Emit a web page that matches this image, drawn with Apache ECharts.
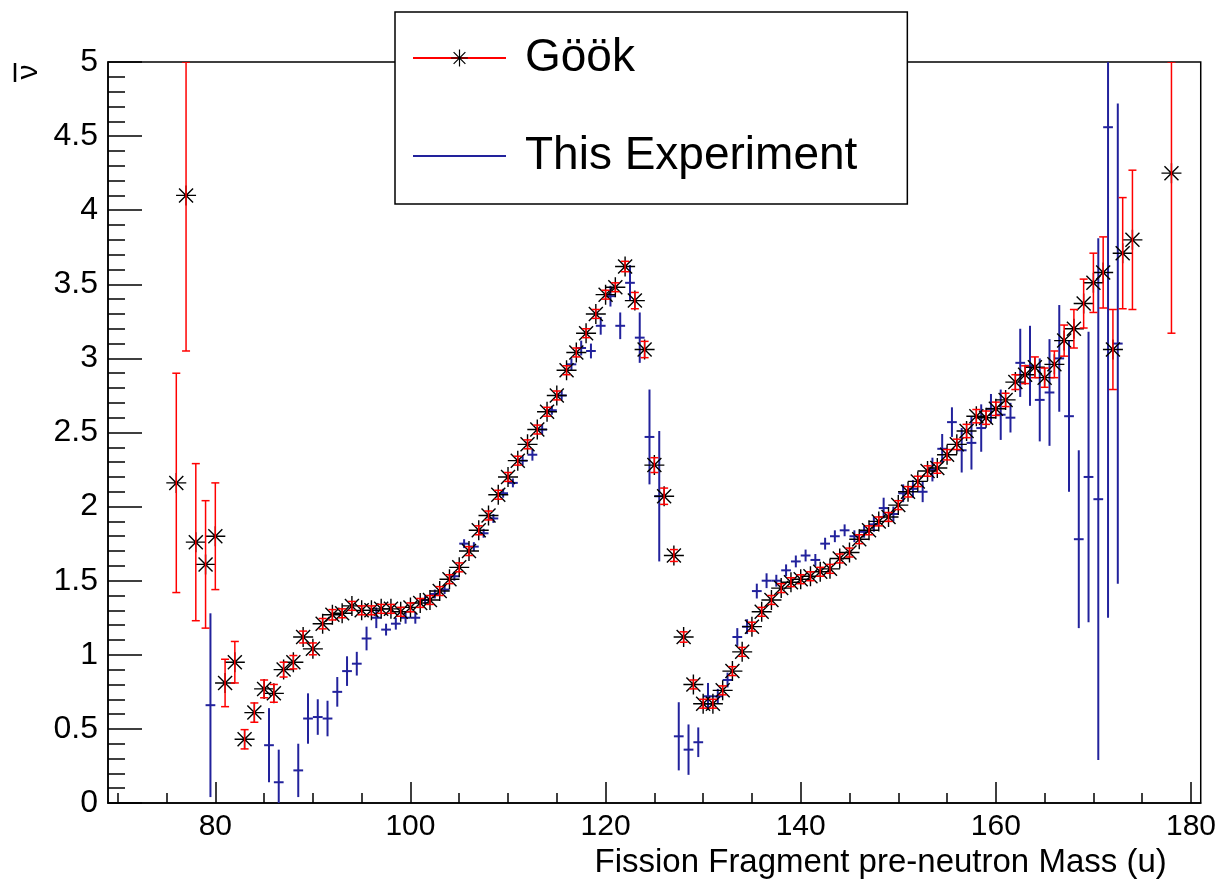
<!DOCTYPE html>
<html>
<head>
<meta charset="utf-8">
<title>nu-bar vs fragment mass</title>
<script src="https://cdn.jsdelivr.net/npm/echarts@6/dist/echarts.min.js"></script>
<style>
  html, body { margin: 0; padding: 0; background: #fff; }
  #chart { width: 1219px; height: 881px; }
</style>
</head>
<body>
<div id="chart"></div>
<script>
// Göök: mass (u), mean neutron multiplicity, error
const GOOK_MASS = [
  76, 77, 78, 79, 80, 81, 82, 83, 84, 85,
  86, 87, 88, 89, 90, 91, 92, 93, 94, 95,
  96, 97, 98, 99, 100, 101, 102, 103, 104, 105,
  106, 107, 108, 109, 110, 111, 112, 113, 114, 115,
  116, 117, 118, 119, 120, 121, 122, 123, 124, 125,
  126, 127, 128, 129, 130, 131, 132, 133, 134, 135,
  136, 137, 138, 139, 140, 141, 142, 143, 144, 145,
  146, 147, 148, 149, 150, 151, 152, 153, 154, 155,
  156, 157, 158, 159, 160, 161, 162, 163, 164, 165,
  166, 167, 168, 169, 170, 171, 172, 173, 174,
  178
];
const GOOK_NU = [
  2.16, 4.10, 1.76, 1.61, 1.80, 0.81, 0.95, 0.43, 0.61, 0.77,
  0.74, 0.90, 0.95, 1.12, 1.04, 1.21, 1.27, 1.28, 1.33, 1.30,
  1.30, 1.31, 1.31, 1.29, 1.32, 1.35, 1.37, 1.43, 1.51, 1.59,
  1.70, 1.84, 1.94, 2.08, 2.20, 2.31, 2.42, 2.52, 2.64, 2.75,
  2.92, 3.04, 3.17, 3.30, 3.43, 3.48, 3.62, 3.39, 3.06, 2.28,
  2.07, 1.67, 1.12, 0.80, 0.67, 0.67, 0.76, 0.89, 1.02, 1.19,
  1.29, 1.37, 1.45, 1.49, 1.51, 1.53, 1.56, 1.58, 1.65, 1.69,
  1.78, 1.84, 1.90, 1.93, 2.01, 2.10, 2.17, 2.24, 2.26, 2.35,
  2.42, 2.51, 2.61, 2.60, 2.66, 2.72, 2.84, 2.89, 2.94, 2.87,
  2.96, 3.12, 3.20, 3.37, 3.51, 3.58, 3.06, 3.71, 3.80,
  4.25
];
const GOOK_ERR = [
  0.74, 1.05, 0.53, 0.43, 0.36, 0.16, 0.14, 0.065, 0.065, 0.06,
  0.06, 0.05, 0.045, 0.04, 0.04, 0.035, 0.035, 0.03, 0.03, 0.03,
  0.03, 0.03, 0.03, 0.03, 0.03, 0.03, 0.03, 0.03, 0.03, 0.03,
  0.03, 0.03, 0.03, 0.03, 0.03, 0.03, 0.03, 0.03, 0.03, 0.03,
  0.03, 0.03, 0.03, 0.03, 0.03, 0.03, 0.035, 0.055, 0.055, 0.05,
  0.055, 0.04, 0.035, 0.03, 0.03, 0.03, 0.03, 0.03, 0.03, 0.03,
  0.03, 0.03, 0.03, 0.03, 0.03, 0.03, 0.03, 0.03, 0.03, 0.03,
  0.03, 0.03, 0.03, 0.03, 0.03, 0.035, 0.035, 0.035, 0.035, 0.035,
  0.035, 0.045, 0.045, 0.045, 0.045, 0.045, 0.05, 0.06, 0.07, 0.065,
  0.09, 0.105, 0.13, 0.165, 0.2, 0.24, 0.27, 0.375, 0.47,
  1.08
];

// This Experiment: bin centre (u), mean neutron multiplicity, error
const EXP_MASS = [
  79.5, 85.5, 86.5,
  88.5, 89.5, 90.5, 91.5, 92.5, 93.5, 94.5, 95.5, 96.5, 97.5,
  98.5, 99.5, 100.5, 101.5, 102.5, 103.5, 104.5, 105.5, 106.5, 107.5,
  108.5, 109.5, 110.5, 111.5, 112.5, 113.5, 114.5, 115.5, 116.5, 117.5,
  118.5, 119.5, 120.5, 121.5, 122.5, 123.5, 124.5, 125.5,
  127.5, 128.5, 129.5, 130.5, 131.5, 132.5, 133.5, 134.5, 135.5, 136.5,
  137.5, 138.5, 139.5, 140.5, 141.5, 142.5, 143.5, 144.5, 145.5, 146.5,
  147.5, 148.5, 149.5, 150.5, 151.5, 152.5, 153.5, 154.5, 155.5, 156.5,
  157.5, 158.5, 159.5, 160.5, 161.5, 162.5, 163.5, 164.5, 165.5, 166.5,
  167.5, 168.5, 169.5, 170.5, 171.5, 172.5
];
const EXP_NU = [
  0.66, 0.39, 0.14,
  0.22, 0.57, 0.58, 0.57, 0.75, 0.89, 0.94, 1.11, 1.25, 1.17,
  1.21, 1.25, 1.25, 1.37, 1.41, 1.44, 1.53, 1.75, 1.73, 1.82,
  1.92, 2.09, 2.16, 2.31, 2.35, 2.52, 2.65, 2.75, 2.96, 3.07,
  3.05, 3.22, 3.42, 3.22, 3.51, 3.14, 2.47, 2.07,
  0.45, 0.36, 0.41, 0.72, 0.72, 0.83, 1.12, 1.19, 1.43, 1.50,
  1.50, 1.57, 1.63, 1.67, 1.64, 1.75, 1.80, 1.84, 1.80, 1.83,
  1.88, 1.99, 1.95, 2.09, 2.12, 2.10, 2.25, 2.39, 2.57, 2.38,
  2.43, 2.53, 2.66, 2.62, 2.60, 2.97, 2.95, 2.72, 2.77, 3.00,
  2.61, 1.78, 2.20, 2.05, 4.56, 3.10
];
const EXP_ERR = [
  0.62, 0.25, 0.22,
  0.18, 0.17, 0.12, 0.12, 0.10, 0.10, 0.08, 0.08, 0.07, 0.04,
  0.04, 0.04, 0.04, 0.03, 0.03, 0.03, 0.03, 0.03, 0.03, 0.03,
  0.03, 0.03, 0.03, 0.03, 0.04, 0.03, 0.03, 0.03, 0.04, 0.05,
  0.05, 0.06, 0.07, 0.09, 0.12, 0.17, 0.32, 0.44,
  0.23, 0.17, 0.10, 0.09, 0.05, 0.05, 0.06, 0.05, 0.05, 0.05,
  0.04, 0.04, 0.04, 0.04, 0.04, 0.04, 0.04, 0.04, 0.04, 0.04,
  0.05, 0.07, 0.05, 0.06, 0.06, 0.07, 0.08, 0.10, 0.10, 0.15,
  0.18, 0.16, 0.10, 0.17, 0.10, 0.23, 0.27, 0.28, 0.36, 0.36,
  0.51, 0.60, 0.98, 1.76, 3.31, 1.62
];
const EXP_BIN_HALF = 0.5;

// axis ticks
const X_MIN = 69, X_MAX = 181;
const Y_MIN = 0, Y_MAX = 5;
const X_MAJOR = [80, 100, 120, 140, 160, 180];
const X_MINOR = [70, 75, 85, 90, 95, 105, 110, 115, 125, 130, 135,
                 145, 150, 155, 165, 170, 175];

const FONT = 'Liberation Sans';
const RED = '#ff0000';
const BLUE = '#22229c';

// ROOT style asterisk marker
const ASTERISK = 'path://M0,9.3L20,9.3L20,10.7L0,10.7Z' +
  'M9.3,0L10.7,0L10.7,20L9.3,20Z' +
  'M3.5,2.5L17.5,16.5L16.5,17.5L2.5,3.5Z' +
  'M17.5,3.5L3.5,17.5L2.5,16.5L16.5,2.5Z' +
  'M8.3,8.3L11.7,8.3L11.7,11.7L8.3,11.7Z';

const gookPoints = GOOK_MASS.map((m, i) => [m, GOOK_NU[i]]);
const gookErrors = GOOK_MASS.map((m, i) => [m, GOOK_NU[i], GOOK_ERR[i]]);
const expPoints = EXP_MASS.map((m, i) => [m, EXP_NU[i], EXP_ERR[i]]);

function clampY(v) {
  return Math.max(Y_MIN, Math.min(Y_MAX, v));
}

function renderGookError(params, api) {
  const x = api.value(0), y = api.value(1), e = api.value(2);
  const hi = api.coord([x, clampY(y + e)]);
  const lo = api.coord([x, clampY(y - e)]);
  const cap = 4;
  const st = { stroke: RED, lineWidth: 1.5 };
  return {
    type: 'group',
    children: [
      { type: 'line', shape: { x1: hi[0], y1: hi[1], x2: lo[0], y2: lo[1] }, style: st },
      { type: 'line', shape: { x1: hi[0] - cap, y1: hi[1], x2: hi[0] + cap, y2: hi[1] }, style: st },
      { type: 'line', shape: { x1: lo[0] - cap, y1: lo[1], x2: lo[0] + cap, y2: lo[1] }, style: st }
    ]
  };
}

function renderExpCross(params, api) {
  const x = api.value(0), y = api.value(1), e = api.value(2);
  const hi = api.coord([x, y + e]);
  const lo = api.coord([x, y - e]);
  const left = api.coord([x - EXP_BIN_HALF, y]);
  const right = api.coord([x + EXP_BIN_HALF, y]);
  const st = { stroke: BLUE, lineWidth: 2 };
  return {
    type: 'group',
    children: [
      { type: 'line', shape: { x1: hi[0], y1: hi[1], x2: lo[0], y2: lo[1] }, style: st },
      { type: 'line', shape: { x1: left[0], y1: left[1], x2: right[0], y2: right[1] }, style: st }
    ]
  };
}

const chart = echarts.init(document.getElementById('chart'));

const option = {
  animation: false,
  backgroundColor: '#fff',
  textStyle: { fontFamily: FONT },
  grid: {
    left: 108, right: 16, top: 62, bottom: 78,
    show: true, borderColor: '#000', borderWidth: 1.5
  },
  legend: {
    orient: 'vertical',
    left: 395, top: 12,
    itemWidth: 93, itemHeight: 21, itemGap: 52,
    padding: [23, 50, 25, 17],
    backgroundColor: '#fff',
    borderColor: '#000', borderWidth: 1.5,
    selectedMode: false,
    textStyle: { fontFamily: FONT, fontSize: 46, color: '#000', padding: [0, 0, 0, 14] },
    data: [
      { name: 'Göök', lineStyle: { color: RED, width: 2, opacity: 1 } },
      { name: 'This Experiment', icon: 'path://M0,0L93,0L93,2L0,2Z', itemStyle: { color: BLUE } }
    ]
  },
  xAxis: [
    {
      type: 'value', min: X_MIN, max: X_MAX,
      name: 'Fission Fragment pre-neutron Mass (u)',
      nameLocation: 'end', nameGap: -34,
      nameTextStyle: {
        fontFamily: FONT, fontSize: 33, color: '#000',
        align: 'right', verticalAlign: 'top', padding: [43, 0, 0, 0]
      },
      axisLine: { onZero: false, lineStyle: { color: '#000', width: 1.5 } },
      axisTick: { inside: true, length: 21, customValues: X_MAJOR, lineStyle: { color: '#000', width: 1.5 } },
      axisLabel: { customValues: X_MAJOR, fontSize: 30, color: '#000', margin: 9, fontFamily: FONT },
      splitLine: { show: false }
    },
    {
      type: 'value', min: X_MIN, max: X_MAX, position: 'bottom',
      axisLine: { show: false },
      axisTick: { inside: true, length: 10, customValues: X_MINOR, lineStyle: { color: '#000', width: 1.5 } },
      axisLabel: { show: false },
      splitLine: { show: false }
    }
  ],
  yAxis: {
    type: 'value', min: Y_MIN, max: Y_MAX, interval: 0.5,
    axisLine: { show: true, onZero: false, lineStyle: { color: '#000', width: 1.5 } },
    axisTick: { inside: true, length: 34, lineStyle: { color: '#000', width: 1.5 } },
    minorTick: { show: true, splitNumber: 5, length: 17, lineStyle: { color: '#000', width: 1.5 } },
    axisLabel: { fontSize: 32, color: '#000', margin: 10, fontFamily: FONT },
    splitLine: { show: false }
  },
  graphic: [
    // y-axis title: nu with a bar, turned on its side like ROOT draws it
    {
      type: 'text', x: 29, y: 72, rotation: Math.PI / 2,
      style: {
        text: '\u03BD', font: '30px "Liberation Sans"', fill: '#000',
        align: 'center', verticalAlign: 'middle'
      }
    },
    {
      type: 'line',
      shape: { x1: 15, y1: 63, x2: 15, y2: 82 },
      style: { stroke: '#000', lineWidth: 2.5 }
    }
  ],
  series: [
    {
      name: 'Göök',
      type: 'line',
      data: gookPoints,
      symbol: ASTERISK,
      symbolSize: 20,
      itemStyle: { color: '#000' },
      lineStyle: { color: RED, width: 0, opacity: 0 },
      z: 3,
      silent: true
    },
    {
      name: 'Göök',
      type: 'custom',
      data: gookErrors,
      encode: { x: 0, y: 1 },
      renderItem: renderGookError,
      clip: true,
      z: 4,
      silent: true
    },
    {
      name: 'This Experiment',
      type: 'custom',
      data: expPoints,
      encode: { x: 0, y: 1 },
      renderItem: renderExpCross,
      itemStyle: { color: BLUE },
      clip: true,
      z: 2,
      silent: true
    }
  ]
};

chart.setOption(option);
</script>
</body>
</html>
